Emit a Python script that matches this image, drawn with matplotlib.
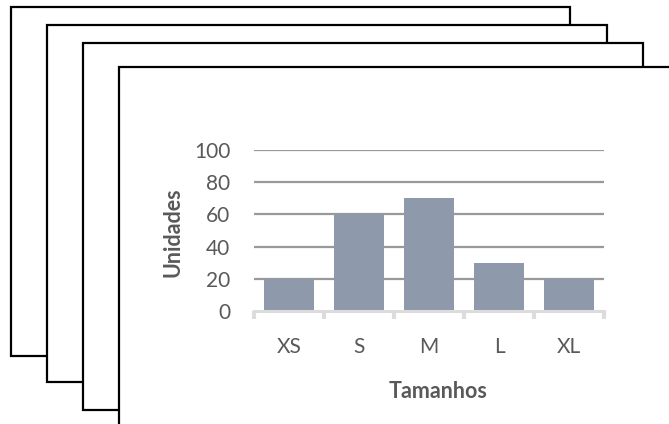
import matplotlib
matplotlib.use("Agg")
import matplotlib.pyplot as plt
from matplotlib.patches import Rectangle

categories = ["XS", "S", "M", "L", "XL"]
values = [20, 60, 70, 30, 20]
yticks = [0, 20, 40, 60, 80, 100]
xlabel = "Tamanhos"
ylabel = "Unidades"

W, H = 669, 424
fig = plt.figure(figsize=(W / 100, H / 100), dpi=100)
fig.patch.set_facecolor("white")

# stacked "pages" (pixel coords, y from top)
pages = [(11, 7, 570, 356), (47, 25, 607, 382), (83, 43, 643, 410), (119, 67, 700, 460)]
for i, (x0, y0, x1, y1) in enumerate(pages):
    r = Rectangle((x0 / W, 1 - y1 / H), (x1 - x0) / W, (y1 - y0) / H,
                  transform=fig.transFigure, facecolor="white", edgecolor="black",
                  linewidth=1.6, zorder=i, clip_on=False)
    fig.add_artist(r)

font = "Lato"
txt = "#595959"

ax = fig.add_axes([254 / W, 1 - 311 / H, 350 / W, 161 / H], zorder=10)
ax.patch.set_alpha(0)
x = list(range(len(categories)))
ax.bar(x, values, width=0.707, color="#8e9aab", zorder=3)
ax.set_xlim(-0.5, len(categories) - 0.5)
ax.set_ylim(0, 100)
ax.set_yticks(yticks)
for t in yticks[1:]:
    ax.axhline(t, color="#999999", linewidth=1.6, zorder=1)
for s in ["top", "right", "left"]:
    ax.spines[s].set_visible(False)
ax.spines["bottom"].set_color("#dcdcdc")
ax.spines["bottom"].set_linewidth(2.2)
ax.spines["bottom"].set_zorder(4)

ax.set_xticks(x)
ax.set_xticklabels(categories, fontfamily=font, fontsize=15, color=txt)
ax.tick_params(axis="x", which="major", length=0, pad=19)
ax.set_xticks([i - 0.5 for i in range(len(categories) + 1)], minor=True)
ax.tick_params(axis="x", which="minor", length=6, width=3, color="#dcdcdc")
ax.tick_params(axis="y", length=0, pad=17)
for lab in ax.get_yticklabels():
    lab.set_fontfamily(font)
    lab.set_fontsize(15)
    lab.set_color(txt)

ax.text((438 - 254) / 350, (311 - 392) / 161, xlabel, transform=ax.transAxes,
        ha="center", va="center", fontfamily=font, fontsize=15.5,
        fontweight="bold", color=txt)
ax.text((173 - 254) / 350, (311 - 232) / 161, ylabel, transform=ax.transAxes,
        ha="center", va="center", rotation=90, fontfamily=font, fontsize=15.5,
        fontweight="bold", color=txt)

fig.savefig("out.png", dpi=100, facecolor="white")
